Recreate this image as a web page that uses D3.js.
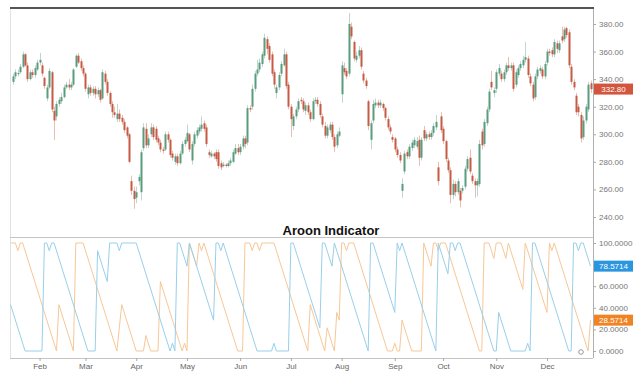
<!DOCTYPE html>
<html><head><meta charset="utf-8">
<script src="https://cdn.jsdelivr.net/npm/d3@7"></script>
<style>
html,body{margin:0;padding:0;background:#fff;}
svg{display:block;}
text{font-family:"Liberation Sans",Arial,sans-serif;}
</style>
</head><body>
<svg id="c" width="640" height="379"></svg>
<script>
// ---- Data (trading-day index 0..239) ----
const opens=[
338,342,344,345,349,358,350,340,345,343,
347,352,350,341,326,334,345,317,313,322,
324,327,334,336,334,336,349,357,353,348,
344,329,334,330,333,329,332,326,344,338,
330,322,316,311,315,312,309,305,300,266,
259,254,266,258,290,304,292,300,305,304,
297,294,289,289,300,296,286,280,284,279,
286,293,295,300,281,293,299,302,304,308,
305,287,284,286,287,287,279,277,278,277,
279,280,286,290,287,291,297,294,319,320,
333,344,347,351,357,369,364,358,345,330,
334,344,350,358,336,320,306,313,318,325,
324,317,321,316,311,324,325,322,313,306,
299,303,307,298,292,299,329,348,346,344,
378,367,354,357,361,344,339,324,296,310,
321,323,321,322,319,311,305,298,297,289,
285,259,273,287,284,290,292,291,296,283,
303,297,300,298,301,305,276,313,304,295,
281,274,256,264,258,259,259,262,275,283,
270,266,263,264,302,293,308,318,338,330,
333,344,344,340,345,350,348,350,336,343,
348,350,354,355,342,336,327,342,346,347,
342,352,360,361,358,366,361,371,369,377,
374,349,338,328,320,314,298,310,318,337];
const highs=[
344,347,347,351,360,359,352,347,347,350,
354,359,352,342,336,348,346,320,324,327,
330,336,338,340,338,348,358,359,355,350,
345,336,336,335,335,334,333,347,346,340,
331,324,320,322,318,314,311,306,301,270,
262,262,271,289,308,308,300,308,307,306,
299,296,291,302,302,297,288,286,286,288,
295,298,307,301,295,302,305,307,313,310,
307,289,288,287,289,289,281,280,279,281,
283,289,293,293,293,299,299,321,321,336,
346,354,355,360,373,371,366,360,347,336,
345,353,362,360,338,322,315,320,326,327,
326,323,323,318,326,327,327,324,315,309,
307,309,309,300,302,305,353,352,348,388,
381,368,360,364,363,346,341,325,310,325,
326,325,325,323,320,313,307,300,298,291,
287,268,288,289,293,296,298,298,299,298,
306,302,302,303,308,314,280,316,306,296,
283,276,267,266,268,261,263,277,284,289,
272,268,268,296,304,311,320,333,346,334,
347,351,346,347,352,356,352,352,347,350,
353,357,367,357,344,338,344,349,350,349,
353,362,362,363,369,368,368,378,378,378,
376,351,340,330,322,316,313,322,338,339];
const lows=[
336,340,342,344,348,349,338,339,341,341,
346,350,342,333,324,333,316,296,310,320,
322,326,333,332,332,335,348,351,346,342,
331,326,328,328,326,327,323,325,336,328,
320,312,312,309,309,307,301,297,279,256,
246,250,263,252,288,290,290,298,296,294,
292,287,286,288,294,283,281,278,277,278,
285,291,294,287,278,291,297,300,302,302,
291,283,283,282,280,275,274,276,276,276,
277,279,285,285,285,289,290,292,316,318,
331,342,345,349,355,358,352,342,333,326,
332,342,349,333,318,298,303,311,316,322,
316,314,314,309,310,322,320,312,305,297,
297,301,296,287,290,298,323,343,340,342,
369,353,352,355,347,337,333,303,289,308,
319,319,319,317,310,303,300,294,287,283,
279,254,271,282,282,288,290,289,277,281,
295,295,296,296,299,303,263,301,293,280,
272,250,253,255,256,247,257,260,273,271,
264,254,255,262,289,291,306,316,332,327,
330,342,338,338,343,346,346,331,334,341,
346,348,352,341,335,324,325,340,344,340,
340,350,357,356,356,359,359,366,367,370,
348,336,332,314,313,294,296,308,316,330];
const closes=[
342,345,344.5,349,358,350,340,345,343,348,
352,354,344,335,334,346,318,310,322,325,
327,334,336,334,336,347,357,352,348,344,
333,334,330,333,329,332,325,345,338,330,
322,316,314,315,311,309,303,299,280,259,
253,258,269,287,305,292,297,305,298,296,
294,289,288,300,296,285,283,284,279,286,
293,296,301,289,293,300,303,305,307,304,
293,285,286,284,282,277,276,278,277,279,
281,287,290,287,291,297,293,319,318,333,
344,347,352,358,370,362,354,344,336,334,
343,351,358,335,320,311,313,318,324,324,
318,321,316,311,324,325,322,314,307,299,
305,307,298,291,300,302,350,345,342,380,
371,355,357,361,349,339,335,306,308,322,
323,321,323,319,312,305,302,296,289,285,
281,264,286,284,291,294,296,295,283,296,
297,300,298,301,306,309,266,303,295,282,
274,256,264,258,266,252,261,275,282,273,
266,263,266,293,292,309,318,331,334,332,
345,348,340,345,350,348,350,333,345,348,
351,354,356,343,337,326,342,347,348,342,
351,360,359,358,367,362,366,368,376,372,
350,338,334,316,316,297,310,320,336,332.8];

// Aroon (14) turning points: [day index, value]
const aroonUp=[[-1,100],[1,100],[2,92.86],[3,100],[4,100],[18,0],[19,42.86],[25,0],[26,100],[29,100],[43,0],[45,42.86],[51,0],[54,0],[55,14.29],[57,0],[60,0],[61,64.29],[70,0],[71,7.14],[72,0],[73,100],[76,78.57],[77,100],[78,92.86],[79,100],[93,0],[95,0],[96,100],[98,100],[99,92.86],[100,100],[101,100],[102,92.86],[103,100],[108,100],[122,0],[123,42.86],[129,0],[130,21.43],[133,0],[134,35.71],[135,28.57],[136,100],[137,100],[138,92.86],[139,100],[141,100],[155,0],[157,0],[158,7.14],[159,0],[160,0],[161,28.57],[165,0],[169,0],[170,100],[173,78.57],[174,100],[175,100],[176,92.86],[177,100],[179,100],[193,0],[194,0],[195,100],[197,100],[199,85.71],[200,100],[202,100],[204,85.71],[205,100],[211,57.14],[212,100],[221,35.71],[222,100],[223,92.86],[224,100],[238,0],[239,28.57]];
const aroonDown=[[-1,42.86],[5,0],[12,0],[13,100],[14,100],[15,92.86],[16,100],[17,100],[31,0],[34,0],[35,92.86],[39,64.29],[40,100],[43,100],[44,92.86],[45,100],[51,100],[65,0],[66,7.14],[67,0],[68,100],[69,100],[72,78.57],[73,100],[83,28.57],[84,100],[85,100],[86,92.86],[87,100],[101,0],[107,0],[108,7.14],[109,0],[114,0],[115,100],[116,100],[127,21.43],[128,100],[129,100],[132,78.57],[133,100],[147,0],[148,100],[149,100],[158,35.71],[159,100],[160,92.86],[161,100],[175,0],[176,100],[180,71.43],[181,100],[182,100],[183,92.86],[184,100],[185,100],[199,0],[200,0],[201,35.71],[206,0],[212,0],[213,7.14],[214,0],[215,100],[216,100],[230,0],[231,0],[232,100],[233,100],[234,92.86],[235,100],[236,100],[239,78.57]];

const monthIdx=[11,30,51,72,94,115,136,158,178,200,221];
const monthLabels=["Feb","Mar","Apr","May","Jun","Jul","Aug","Sep","Oct","Nov","Dec"];
const priceTicks=[240,260,280,300,320,340,360,380];
const aroonTicks=[0,20,40,60,80,100];
const lastPrice=332.80;
const lastUp=28.5714;
const lastDown=78.5714;
const title="Aroon Indicator";

// ---- Layout ----
const svg=d3.select("#c");
const L=10,R=593,T=8,B1=237,B2=358;
const x=d3.scaleLinear().domain([0,239]).range([13,590.5]);
const yP=d3.scaleLinear().domain([240,380]).range([217,24]);
const yA=d3.scaleLinear().domain([0,100]).range([351,243]);

const UP="#5a9c7f", DN="#c65a45", BLUE="#98cfea", ORANGE="#f7c797";

const defs=svg.append("defs");
defs.append("clipPath").attr("id","cp1").append("rect").attr("x",L).attr("y",T).attr("width",R-L).attr("height",B1-T);
defs.append("clipPath").attr("id","cp2").append("rect").attr("x",L).attr("y",B1+1).attr("width",R-L).attr("height",B2-B1-1);

// frames
svg.append("line").attr("x1",L+0.5).attr("x2",L+0.5).attr("y1",T).attr("y2",B2).attr("stroke","#e2e2e2");
svg.append("line").attr("x1",L).attr("x2",R).attr("y1",B1+0.5).attr("y2",B1+0.5).attr("stroke","#c4c4c4");
svg.append("line").attr("x1",L).attr("x2",R).attr("y1",B2+0.5).attr("y2",B2+0.5).attr("stroke","#c4c4c4");
svg.append("line").attr("x1",R+0.5).attr("x2",R+0.5).attr("y1",T).attr("y2",B2).attr("stroke","#b0b0b0");
svg.append("line").attr("x1",L).attr("x2",R+1).attr("y1",T).attr("y2",T).attr("stroke","#555").attr("stroke-width",2);

// candles
const cd=d3.range(opens.length).map(i=>({i,o:opens[i],h:highs[i],l:lows[i],c:closes[i]}));
const gC=svg.append("g").attr("clip-path","url(#cp1)");
gC.selectAll("line.w").data(cd).join("line")
 .attr("x1",d=>Math.round(x(d.i))+0.5).attr("x2",d=>Math.round(x(d.i))+0.5)
 .attr("y1",d=>yP(d.h)).attr("y2",d=>yP(d.l))
 .attr("stroke",d=>d.c>=d.o?UP:DN).attr("stroke-opacity",0.4).attr("stroke-width",1);
gC.selectAll("rect.b").data(cd).join("rect")
 .attr("x",d=>Math.round(x(d.i))-0.5).attr("width",2)
 .attr("y",d=>yP(Math.max(d.o,d.c)))
 .attr("height",d=>Math.max(1.2,Math.abs(yP(d.o)-yP(d.c))))
 .attr("fill",d=>d.c>=d.o?UP:DN);

// price axis
const ax1=svg.append("g").attr("transform",`translate(${R},0)`)
 .call(d3.axisRight(yP).tickValues(priceTicks).tickSize(3).tickPadding(3).tickFormat(d3.format(".2f")));
ax1.select(".domain").remove();
ax1.selectAll("line").attr("stroke","#aaa");
ax1.selectAll("text").attr("fill","#777").style("font-size","8px");

// last price label
svg.append("rect").attr("x",R+1).attr("y",yP(lastPrice)-5.5).attr("width",39).attr("height",11).attr("fill","#d4553d");
svg.append("text").attr("x",R+20.5).attr("y",yP(lastPrice)+3).attr("text-anchor","middle")
 .attr("fill","#fff").style("font-size","8px").text(d3.format(".2f")(lastPrice));

// title
svg.append("text").attr("x",331).attr("y",234.5).attr("text-anchor","middle")
 .style("font-size","13px").style("font-weight","bold").attr("fill","#111").text(title);

// aroon lines
const line=d3.line().x(d=>x(d[0])).y(d=>yA(d[1]));
const gA=svg.append("g").attr("clip-path","url(#cp2)");
gA.append("path").datum(aroonUp).attr("d",line).attr("fill","none").attr("stroke",ORANGE).attr("stroke-width",1);
gA.append("path").datum(aroonDown).attr("d",line).attr("fill","none").attr("stroke",BLUE).attr("stroke-width",1);

// aroon axis
const ax2=svg.append("g").attr("transform",`translate(${R},0)`)
 .call(d3.axisRight(yA).tickValues(aroonTicks).tickSize(3).tickPadding(3).tickFormat(d3.format(".4f")));
ax2.select(".domain").remove();
ax2.selectAll("line").attr("stroke","#aaa");
ax2.selectAll("text").attr("fill","#777").style("font-size","8px");

// aroon last-value labels
[[lastDown,"#2b96e0"],[lastUp,"#f08424"]].forEach(([v,col])=>{
  svg.append("rect").attr("x",R+1).attr("y",yA(v)-5.5).attr("width",39).attr("height",11).attr("fill",col);
  svg.append("text").attr("x",R+20.5).attr("y",yA(v)+3).attr("text-anchor","middle")
   .attr("fill","#fff").style("font-size","8px").text(d3.format(".4f")(v));
});

// gear marker
svg.append("circle").attr("cx",581).attr("cy",352).attr("r",2.3).attr("fill","none").attr("stroke","#999").attr("stroke-width",1);

// month axis
const ax3=svg.append("g").attr("transform",`translate(0,${B2})`)
 .call(d3.axisBottom(x).tickValues(monthIdx).tickSize(3).tickPadding(2).tickFormat((d,i)=>monthLabels[i]));
ax3.select(".domain").remove();
ax3.selectAll("line").attr("stroke","#aaa");
ax3.selectAll("text").attr("fill","#666").style("font-size","8px");
</script>
</body></html>
